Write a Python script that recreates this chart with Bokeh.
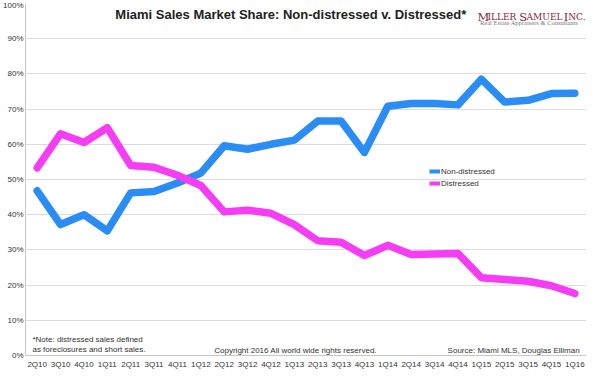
from bokeh.plotting import figure
from bokeh.models import FactorRange, Range1d, Label, Legend, LegendItem, ColumnDataSource, PrintfTickFormatter, FixedTicker
from bokeh.embed import file_html
from bokeh.resources import INLINE

quarters = ["2Q10", "3Q10", "4Q10", "1Q11", "2Q11", "3Q11", "4Q11", "1Q12",
            "2Q12", "3Q12", "4Q12", "1Q13", "2Q13", "3Q13", "4Q13", "1Q14",
            "2Q14", "3Q14", "4Q14", "1Q15", "2Q15", "3Q15", "4Q15", "1Q16"]
non_distressed = [46.8, 37.2, 40.0, 35.4, 46.2, 46.6, 49.0, 51.8,
                  59.6, 58.6, 60.0, 61.2, 66.6, 66.6, 57.7, 70.8,
                  71.6, 71.6, 71.2, 78.5, 72.0, 72.5, 74.4, 74.5]
distressed = [53.3, 63.0, 60.5, 64.7, 54.0, 53.5, 51.2, 48.3,
              40.8, 41.3, 40.4, 37.2, 32.6, 32.2, 28.4, 31.3,
              28.7, 28.8, 29.0, 22.1, 21.6, 21.1, 19.8, 17.6]
y_ticks = [0, 10, 20, 30, 40, 50, 60, 70, 80, 90, 100]

BLUE = "#2a8cf5"
MAGENTA = "#f53df5"
TXT = "#333333"
FONT = "Liberation Sans"

src = ColumnDataSource(dict(q=quarters, nd=non_distressed, d=distressed))

p = figure(width=586, height=371, x_range=FactorRange(*quarters, range_padding=0),
           y_range=Range1d(0, 100), output_backend="svg", toolbar_location=None,
           x_axis_label=None, y_axis_label=None,
           min_border_left=0, min_border_right=0, min_border_top=3, min_border_bottom=0)
p.outline_line_color = None
p.background_fill_color = "white"
p.title.visible = False

nd_r = p.line("q", "nd", source=src, line_color=BLUE, line_width=7.5, line_join="round", line_cap="round")
d_r = p.line("q", "d", source=src, line_color=MAGENTA, line_width=7.5, line_join="round", line_cap="round")

nan = float("nan")
r_nd = p.line([quarters[0], quarters[1]], [nan, nan], line_color=BLUE, line_width=4)
r_d = p.line([quarters[0], quarters[1]], [nan, nan], line_color=MAGENTA, line_width=4)
leg = Legend(items=[LegendItem(label="Non-distressed", renderers=[r_nd]),
                    LegendItem(label="Distressed", renderers=[r_d])],
             location=(404, 167), glyph_width=11, glyph_height=8, label_standoff=1,
             padding=0, spacing=2, margin=0, border_line_color=None,
             background_fill_alpha=0, label_text_font=FONT, label_text_font_size="8px",
             label_text_color=TXT, label_height=10)
p.add_layout(leg)

p.yaxis.ticker = FixedTicker(ticks=y_ticks)
p.yaxis.formatter = PrintfTickFormatter(format="%d%%")
for ax in (p.xaxis[0], p.yaxis[0]):
    ax.axis_label = None
    ax.major_tick_line_color = None
    ax.minor_tick_line_color = None
    ax.major_tick_out = 0
    ax.major_tick_in = 0
    ax.minor_tick_out = 0
    ax.minor_tick_in = 0
    ax.axis_label_standoff = 0
    ax.major_label_text_font = FONT
    ax.major_label_text_font_size = "8px"
    ax.major_label_text_color = TXT
    ax.axis_line_color = "#c8c8c8"
    ax.axis_line_width = 1
    ax.major_label_standoff = 2
p.xaxis.major_label_standoff = 4
p.xgrid.grid_line_color = None
p.ygrid.grid_line_color = "#dcdcdc"
p.ygrid.ticker = FixedTicker(ticks=y_ticks)

def lab(x, y, text, size="8px", color=TXT, font=FONT, align="left", style="normal", baseline="middle"):
    p.add_layout(Label(x=x, y=y, text=text, text_font=font, text_font_size=size,
                       text_color=color, text_align=align, text_baseline=baseline,
                       text_font_style=style))

lab(11.35, 96.9, "Miami Sales Market Share: Non-distressed v. Distressed*", size="13px",
    color="#222222", align="center", style="bold")

RED = "#8a2636"
SERIF = "DejaVu Serif"
def px(page_x):
    return (page_x - 28.0) / 23.58
base_y = (367 - 24.2) / 3.56
logo_parts = [(484.0, "M", "11.5px"), (494.0, "ILLER", "9px"),
              (526.0, "S", "11.5px"), (533.5, "AMUEL", "9px"),
              (571.0, "I", "11.5px"), (575.5, "NC.", "9px")]
for xpos, t, sz in logo_parts:
    lab(px(xpos), base_y, t, size=sz, color=RED, font=SERIF, baseline="alphabetic")
lab(px(536.0), (367 - 30.5) / 3.56, "Real Estate Appraisers & Consultants", size="6.5px",
    color="#777777", font="Liberation Serif", align="center")

lab(px(35), (367 - 351) / 3.56, "*Note: distressed sales defined")
lab(px(35), (367 - 361) / 3.56, "as foreclosures and short sales.")
lab(px(300.5), (367 - 362) / 3.56, "Copyright 2016 All world wide rights reserved.", align="center")
lab(px(587), (367 - 362) / 3.56, "Source: Miami MLS, Douglas Elliman", align="right")

open("out.html", "w").write(file_html(p, INLINE))
